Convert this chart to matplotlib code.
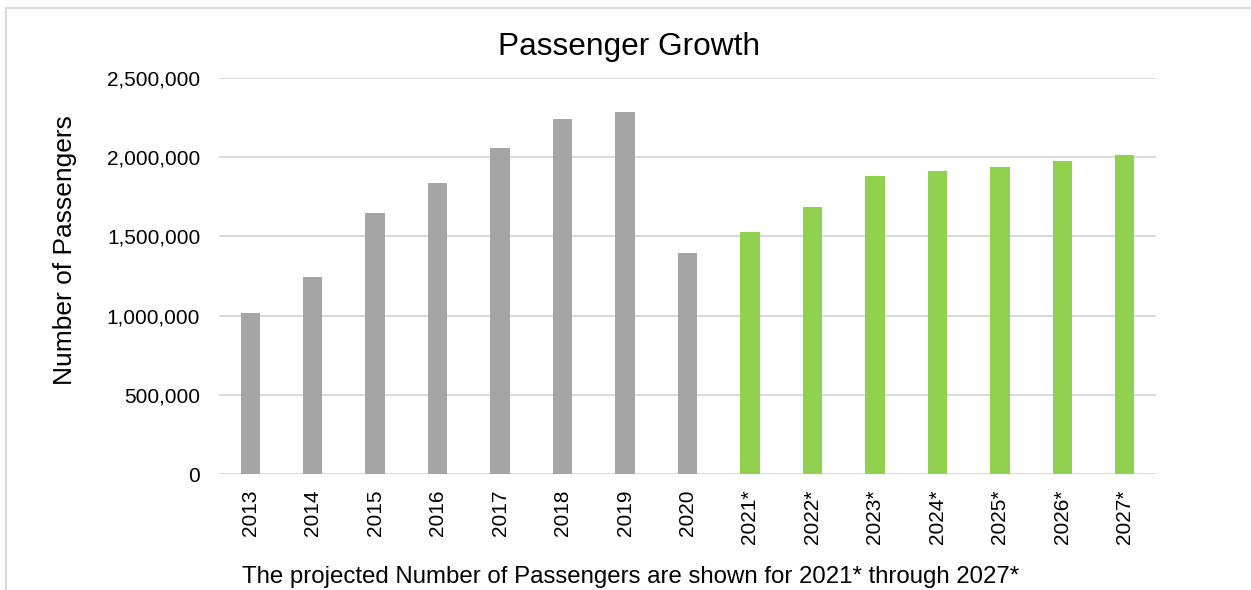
import matplotlib.pyplot as plt
from matplotlib.lines import Line2D
from matplotlib.ticker import FuncFormatter

plt.rcParams['font.family'] = ['Liberation Sans', 'DejaVu Sans']

# -----------------------------
# Data
# -----------------------------
years = ["2013", "2014", "2015", "2016", "2017", "2018", "2019", "2020",
         "2021*", "2022*", "2023*", "2024*", "2025*", "2026*", "2027*"]
passengers = [1015000, 1245000, 1646000, 1836000, 2056000, 2239000, 2287000, 1393000,
              1528000, 1686000, 1879000, 1911000, 1938000, 1978000, 2014000]
projected = [False] * 8 + [True] * 7

gray = "#A5A5A5"
green = "#92D050"
grid_col = "#D9D9D9"

# -----------------------------
# Figure
# -----------------------------
fig = plt.figure(figsize=(12.51, 5.90), dpi=100)
ax = fig.add_axes([219 / 1251, 1 - 474 / 590, (1156 - 219) / 1251, (474 - 78) / 590])

colors = [green if p else gray for p in projected]
x = range(len(years))
ax.bar(x, passengers, width=0.31, color=colors, zorder=2)

ax.set_xlim(-0.5, len(years) - 0.5)
ax.set_ylim(0, 2500000)
ax.set_yticks(range(0, 2500001, 500000))
ax.yaxis.set_major_formatter(FuncFormatter(lambda v, p: f"{int(v):,}"))
ax.set_xticks(list(x))
ax.set_xticklabels(years, rotation=90)

ax.grid(axis="y", color=grid_col, linewidth=1.4)
ax.set_axisbelow(True)
for s in ax.spines.values():
    s.set_visible(False)
ax.tick_params(axis="y", length=0, pad=13.5, labelsize=15)
ax.tick_params(axis="x", length=0, pad=11, labelsize=15)

# -----------------------------
# Texts
# -----------------------------
fig.text(628.5 / 1251, 1 - 55 / 590, "Passenger Growth", fontsize=22.8,
         ha="center", va="baseline")
fig.text(65 / 1251, 1 - 250 / 590, "Number of Passengers", fontsize=19,
         rotation=90, ha="center", va="center")
fig.text(630.5 / 1251, 1 - 583 / 590,
         "The projected Number of Passengers are shown for 2021* through 2027*",
         fontsize=17.25, ha="center", va="baseline")

# light frame (top and left edges)
fig.add_artist(Line2D([5.5 / 1251, 5.5 / 1251], [0, 1 - 7.5 / 590],
                      transform=fig.transFigure, color=grid_col, linewidth=1.5))
fig.add_artist(Line2D([5.5 / 1251, 1], [1 - 7.5 / 590, 1 - 7.5 / 590],
                      transform=fig.transFigure, color=grid_col, linewidth=1.5))

fig.savefig("out.png", dpi=100)
